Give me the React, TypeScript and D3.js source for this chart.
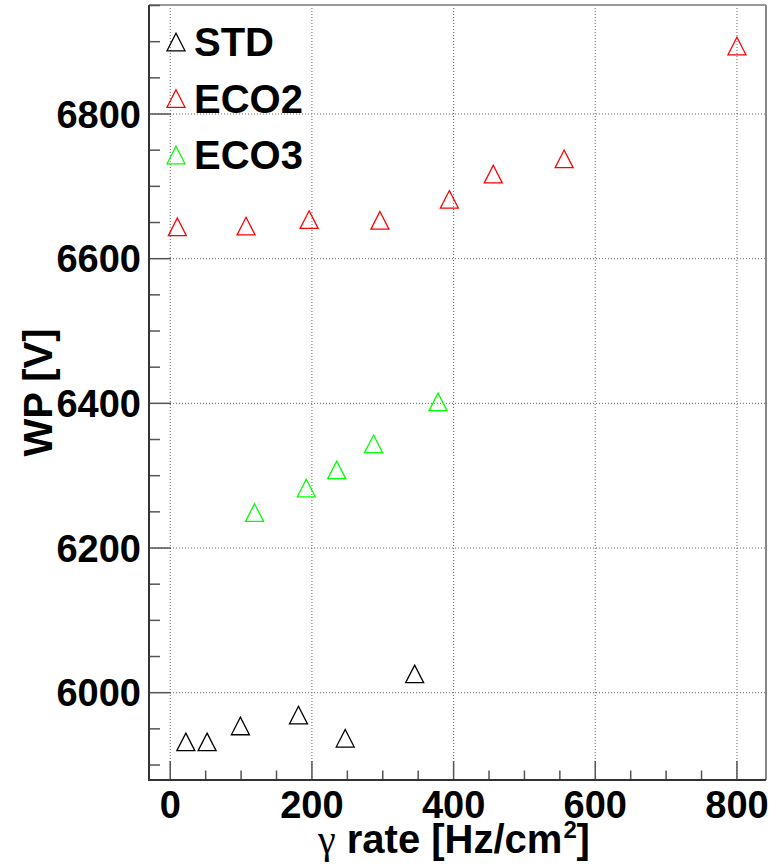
import { useEffect, useRef } from "react";
import * as d3 from "d3";

const W = 777,
  H = 866;
const frame = { left: 149, right: 766, top: 5, bottom: 780 };

// gamma rate [Hz/cm2] and working point [V]
const stdRate = [22, 52, 99, 181, 247, 345];
const stdWP = [5932, 5932, 5954, 5969, 5937, 6026];
const eco2Rate = [10, 107, 196, 296, 394, 456, 556, 800];
const eco2WP = [6644, 6645, 6654, 6653, 6682, 6717, 6738, 6894];
const eco3Rate = [119, 192, 235, 287, 378];
const eco3WP = [6249, 6283, 6308, 6344, 6402];

const xTicks = [0, 200, 400, 600, 800];
const yTicks = [6000, 6200, 6400, 6600, 6800];
const legendNames = ["STD", "ECO2", "ECO3"];
const colors = ["#000000", "#ff0000", "#00ff00"];

const font = "'Liberation Sans', Arial, Helvetica, sans-serif";

const App = () => {
  const ref = useRef<SVGSVGElement | null>(null);

  useEffect(() => {
    const svg = d3.select(ref.current);
    svg.selectAll("*").remove();

    const x = d3.scaleLinear().domain([-30, 841]).range([frame.left, frame.right]);
    const y = d3.scaleLinear().domain([5879.3, 6950.7]).range([frame.bottom, frame.top]);

    svg.append("rect").attr("width", W).attr("height", H).attr("fill", "white");

    // grid
    const grid = svg.append("g").attr("stroke", "#666").attr("stroke-width", 1).attr("stroke-dasharray", "1,2");
    xTicks.forEach((t) => {
      grid.append("line").attr("x1", x(t)).attr("x2", x(t)).attr("y1", frame.top).attr("y2", frame.bottom);
    });
    yTicks.forEach((t) => {
      grid.append("line").attr("x1", frame.left).attr("x2", frame.right).attr("y1", y(t)).attr("y2", y(t));
    });

    // frame top / right
    svg.append("line").attr("x1", frame.left).attr("x2", frame.right).attr("y1", frame.top).attr("y2", frame.top)
      .attr("stroke", "#999").attr("stroke-width", 2);
    svg.append("line").attr("x1", frame.right).attr("x2", frame.right).attr("y1", frame.top).attr("y2", frame.bottom)
      .attr("stroke", "#888").attr("stroke-width", 2);

    // ticks
    const ticks = svg.append("g").attr("stroke", "#555").attr("stroke-width", 1.5);
    d3.range(0, 851, 50).filter((v) => v <= 841).forEach((v) => {
      const len = v % 200 === 0 ? 19 : 9.5;
      ticks.append("line").attr("x1", x(v)).attr("x2", x(v)).attr("y1", frame.bottom).attr("y2", frame.bottom - len);
    });
    d3.range(5900, 6951, 50).forEach((v) => {
      const len = v % 200 === 0 ? 22 : 11;
      ticks.append("line").attr("x1", frame.left).attr("x2", frame.left + len).attr("y1", y(v)).attr("y2", y(v));
    });

    // axis lines
    svg.append("line").attr("x1", frame.left).attr("x2", frame.left).attr("y1", frame.top).attr("y2", frame.bottom + 1)
      .attr("stroke", "#333").attr("stroke-width", 2);
    svg.append("line").attr("x1", frame.left - 1).attr("x2", frame.right).attr("y1", frame.bottom).attr("y2", frame.bottom)
      .attr("stroke", "#333").attr("stroke-width", 2);

    // tick labels
    const lab = svg.append("g").attr("font-family", font).attr("font-weight", "bold").attr("font-size", 38).attr("fill", "black");
    xTicks.forEach((t) => {
      lab.append("text").attr("x", x(t)).attr("y", 818).attr("text-anchor", "middle").text(t);
    });
    yTicks.forEach((t) => {
      lab.append("text").attr("x", 141).attr("y", y(t) + 13.5).attr("text-anchor", "end").text(t);
    });

    // x title: main part, then superscript and bracket placed after measuring
    const xt = svg.append("text").attr("x", 318).attr("y", 853)
      .attr("font-family", font).attr("font-weight", "bold").attr("font-size", 40);
    xt.append("tspan").attr("font-family", "'Liberation Serif', serif").attr("font-weight", "normal").text("γ");
    xt.append("tspan").text(" rate [Hz/cm");
    const len = (xt.node() as SVGTextElement).getComputedTextLength();
    svg.append("text").attr("x", 318 + len + 1).attr("y", 838)
      .attr("font-family", font).attr("font-weight", "bold").attr("font-size", 24).text("2");
    svg.append("text").attr("x", 318 + len + 14).attr("y", 853)
      .attr("font-family", font).attr("font-weight", "bold").attr("font-size", 40).text("]");

    svg.append("text").attr("transform", `translate(52,${(frame.top + frame.bottom) / 2}) rotate(-90)`)
      .attr("text-anchor", "middle").attr("font-family", font).attr("font-weight", "bold").attr("font-size", 40)
      .text("WP [V]");

    // markers
    const tri = (cx: number, cy: number) =>
      `M${cx},${cy - 8.8}L${cx + 9},${cy + 8.8}L${cx - 9},${cy + 8.8}Z`;
    const series = [
      [stdRate, stdWP],
      [eco2Rate, eco2WP],
      [eco3Rate, eco3WP],
    ];
    series.forEach(([xs, ys], i) => {
      svg.append("g").selectAll("path").data(xs).join("path")
        .attr("d", (d, j) => tri(x(d), y(ys[j])))
        .attr("fill", "none").attr("stroke", colors[i]).attr("stroke-width", 1.3);
    });

    // legend
    legendNames.forEach((name, i) => {
      const cy = 42 + i * 56.5;
      svg.append("path").attr("d", tri(176, cy)).attr("fill", "none").attr("stroke", colors[i]).attr("stroke-width", 1.3);
      svg.append("text").attr("x", 194).attr("y", cy + 14).attr("font-family", font).attr("font-weight", "bold")
        .attr("font-size", 40).text(name);
    });
  }, []);

  return (
    <svg ref={ref} width={W} height={H} style={{ position: "absolute", left: 0, top: 0 }} />
  );
};

export default App;
